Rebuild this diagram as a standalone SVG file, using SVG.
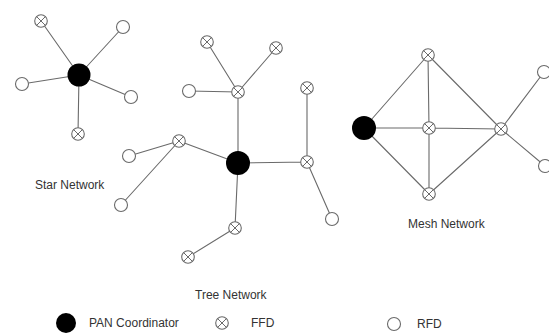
<svg xmlns="http://www.w3.org/2000/svg" width="549" height="336" viewBox="0 0 549 336">
<defs>
<style>
.e{stroke:#6a6a6a;stroke-width:1.1;fill:none}
.rfd{fill:#fff;stroke:#6a6a6a;stroke-width:1.1}
.ffd circle{fill:#fff;stroke:#6a6a6a;stroke-width:1.1}
.ffd path{stroke:#6a6a6a;stroke-width:1}
.pan{fill:#000}
text{font-family:"Liberation Sans",Arial,sans-serif;font-size:12px;fill:#333}
</style>
<g id="ffdsym" class="ffd"><circle r="6.3"/><path d="M-4.4,-4.4L4.4,4.4M4.4,-4.4L-4.4,4.4"/></g>
</defs>
<rect width="549" height="336" fill="#fff"/>
<g id="connectors">
<path class="e" d="M79,75L41,21M79,75L123,27M79,75L22,84M79,75L131,97M79,75L78,134"/>
<path class="e" d="M238,163L238,92M238,92L207,42M238,92L276,48M238,92L189,91M238,163L179,141M179,141L129,156M179,141L121,205M238,163L307,162M307,162L307,88M307,162L332,219M238,163L235,228M235,228L188,257"/>
<path class="e" d="M364,128L428,55M364,128L429,128M364,128L429,194M428,55L429,128M429,128L429,194M428,55L501,129M429,128L501,129M429,194L501,129M501,129L544,72M501,129L545,166"/>
</g>
<g id="star">
<circle id="star-pan" class="pan" cx="79" cy="75" r="11.5"/>
<use id="star-ffd1" href="#ffdsym" x="41" y="21"/>
<use id="star-ffd2" href="#ffdsym" x="78" y="134"/>
<circle id="star-rfd1" class="rfd" cx="123" cy="27" r="6.5"/>
<circle id="star-rfd2" class="rfd" cx="22" cy="84" r="6.5"/>
<circle id="star-rfd3" class="rfd" cx="131" cy="97" r="6.5"/>
<text x="35" y="189">Star Network</text>
</g>
<g id="tree">
<circle id="tree-pan" class="pan" cx="238" cy="163" r="12"/>
<use id="tree-ffd-up" href="#ffdsym" x="238" y="92"/>
<use id="tree-ffd-a" href="#ffdsym" x="207" y="42"/>
<use id="tree-ffd-b" href="#ffdsym" x="276" y="48"/>
<circle id="tree-rfd-a" class="rfd" cx="189" cy="91" r="6.5"/>
<use id="tree-ffd-left" href="#ffdsym" x="179" y="141"/>
<circle id="tree-rfd-b" class="rfd" cx="129" cy="156" r="6.5"/>
<circle id="tree-rfd-c" class="rfd" cx="121" cy="205" r="6.5"/>
<use id="tree-ffd-right" href="#ffdsym" x="307" y="162"/>
<use id="tree-ffd-c" href="#ffdsym" x="307" y="88"/>
<circle id="tree-rfd-d" class="rfd" cx="332" cy="219" r="6.5"/>
<use id="tree-ffd-bottom" href="#ffdsym" x="235" y="228"/>
<use id="tree-ffd-d" href="#ffdsym" x="188" y="257"/>
<text x="195" y="299">Tree Network</text>
</g>
<g id="mesh">
<circle id="mesh-pan" class="pan" cx="364" cy="128" r="12"/>
<use id="mesh-ffd-top" href="#ffdsym" x="428" y="55"/>
<use id="mesh-ffd-mid" href="#ffdsym" x="429" y="128"/>
<use id="mesh-ffd-bot" href="#ffdsym" x="429" y="194"/>
<use id="mesh-ffd-right" href="#ffdsym" x="501" y="129"/>
<circle id="mesh-rfd1" class="rfd" cx="544" cy="72" r="6.5"/>
<circle id="mesh-rfd2" class="rfd" cx="545" cy="166" r="6.5"/>
<text x="408" y="228">Mesh Network</text>
</g>
<g id="legend">
<circle class="pan" cx="66" cy="323" r="10"/>
<text x="89" y="327">PAN Coordinator</text>
<use href="#ffdsym" x="222" y="323"/>
<text x="251" y="327">FFD</text>
<circle class="rfd" cx="394" cy="324" r="6.5"/>
<text x="417" y="328">RFD</text>
</g>
</svg>
